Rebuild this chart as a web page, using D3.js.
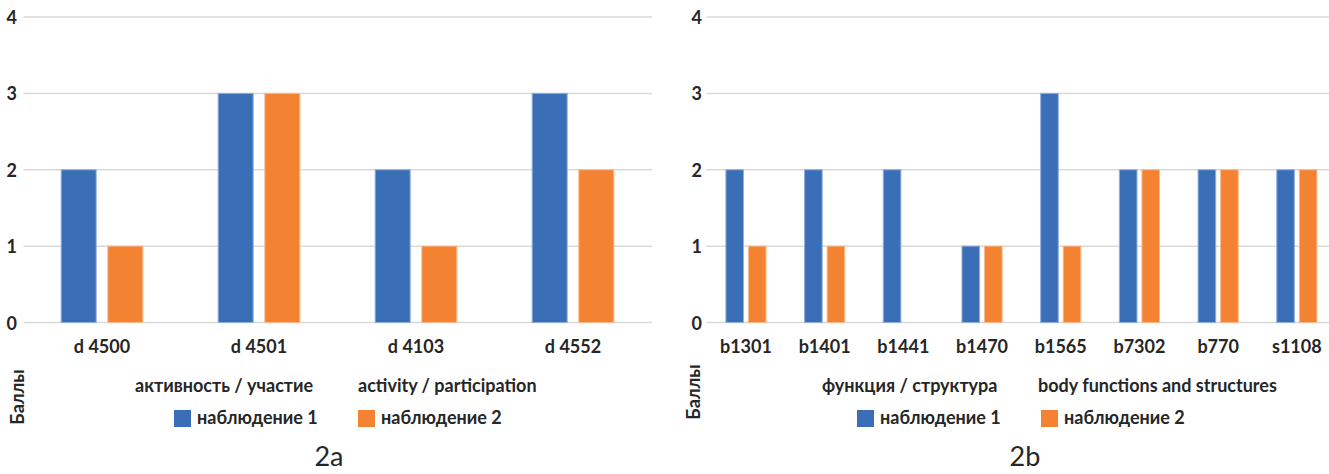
<!DOCTYPE html>
<html>
<head>
<meta charset="utf-8">
<script src="https://cdn.jsdelivr.net/npm/d3@7"></script>
<style>
  html, body { margin: 0; padding: 0; background: #fff; }
  svg { display: block; font-family: Lato, "Open Sans", sans-serif; }
</style>
</head>
<body>
<div id="chart"></div>
<script>
// ---- data ----
const seriesNames = ['наблюдение 1', 'наблюдение 2'];
const yTicks = [0, 1, 2, 3, 4];

const catsA = ['d 4500', 'd 4501', 'd 4103', 'd 4552'];
const obs1A = [2, 3, 2, 3];
const obs2A = [1, 3, 1, 2];

const catsB = ['b1301', 'b1401', 'b1441', 'b1470', 'b1565', 'b7302', 'b770', 's1108'];
const obs1B = [2, 2, 2, 1, 3, 2, 2, 2];
const obs2B = [1, 1, 0, 1, 1, 2, 2, 2];

const colors = ['#3a6fb7', '#f38233'];
const strokes = ['#8eaedb', '#f9b98a'];

const W = 1329, H = 474;
const svg = d3.select('#chart').append('svg')
  .attr('width', W).attr('height', H);

const y = d3.scaleLinear().domain([0, 4]).range([322.5, 17]);

// one panel of the figure
function panel(cfg) {
  const g = svg.append('g');

  const x0 = d3.scaleBand().domain(cfg.cats)
    .range(cfg.xRange)
    .paddingInner(cfg.groupPad).paddingOuter(cfg.groupPad / 2);
  const x1 = d3.scaleBand().domain(seriesNames)
    .range([0, x0.bandwidth()])
    .paddingInner(cfg.barPad);

  // gridlines
  g.selectAll('.grid').data(yTicks).join('line')
    .attr('x1', cfg.xRange[0]).attr('x2', cfg.gridEnd)
    .attr('y1', d => y(d)).attr('y2', d => y(d))
    .attr('stroke', '#d9d9d9').attr('stroke-width', 1.5);

  // tick labels
  g.selectAll('.ytick').data(yTicks).join('text')
    .attr('x', cfg.tickX).attr('y', d => y(d))
    .attr('text-anchor', 'end').attr('dominant-baseline', 'central')
    .attr('font-size', '18px').attr('font-weight', 'bold').attr('fill', '#262626')
    .text(d => d);

  // bars
  const rows = cfg.cats.map((c, i) => ({ cat: c, vals: [cfg.s1[i], cfg.s2[i]] }));
  rows.forEach(r => {
    r.vals.forEach((v, k) => {
      if (!v) return;
      g.append('rect')
        .attr('x', x0(r.cat) + x1(seriesNames[k]))
        .attr('y', y(v))
        .attr('width', x1.bandwidth())
        .attr('height', y(0) - y(v))
        .attr('fill', colors[k])
        .attr('stroke', strokes[k]).attr('stroke-width', 1);
    });
  });

  // category labels
  g.selectAll('.cat').data(cfg.cats).join('text')
    .attr('x', d => x0(d) + x0.bandwidth() / 2)
    .attr('y', 353)
    .attr('text-anchor', 'middle')
    .attr('font-size', '18px').attr('font-weight', 'bold').attr('fill', '#262626')
    .text(d => d);

  // rotated axis title
  g.append('text')
    .attr('transform', `translate(${cfg.titleX},${cfg.titleY}) rotate(-90)`)
    .attr('text-anchor', 'middle').attr('dominant-baseline', 'central')
    .attr('font-size', '18px').attr('font-weight', 'bold').attr('fill', '#262626')
    .text('Баллы');

  // subtitle pieces
  cfg.subs.forEach(s => {
    g.append('text').attr('x', s.x).attr('y', 392)
      .attr('font-size', '18px').attr('font-weight', 'bold').attr('fill', '#262626')
      .text(s.text);
  });

  // legend
  cfg.legendX.forEach((lx, k) => {
    g.append('rect').attr('x', lx).attr('y', 410)
      .attr('width', 17).attr('height', 17).attr('fill', colors[k]);
    g.append('text').attr('x', lx + 23).attr('y', 424)
      .attr('font-size', '18px').attr('font-weight', 'bold').attr('fill', '#262626')
      .text(seriesNames[k]);
  });

  // figure label
  g.append('text').attr('x', cfg.figX).attr('y', 466)
    .attr('text-anchor', 'middle')
    .attr('font-size', '27px').attr('fill', '#262626')
    .text(cfg.fig);
}

panel({
  cats: catsA, s1: obs1A, s2: obs2A,
  xRange: [23.5, 651.5], gridEnd: 652,
  groupPad: 0.48, barPad: 0.25,
  tickX: 17, titleX: 17, titleY: 397,
  subs: [{ x: 135, text: 'активность / участие' }, { x: 358, text: 'activity / participation' }],
  legendX: [174, 358],
  fig: '2a', figX: 329
});

panel({
  cats: catsB, s1: obs1B, s2: obs2B,
  xRange: [706.6, 1336.2], gridEnd: 1336,
  groupPad: 0.49, barPad: 0.22,
  tickX: 702, titleX: 693, titleY: 392,
  subs: [{ x: 822, text: 'функция / структура' }, { x: 1038, text: 'body functions and structures' }],
  legendX: [857, 1041],
  fig: '2b', figX: 1025
});
</script>
</body>
</html>
